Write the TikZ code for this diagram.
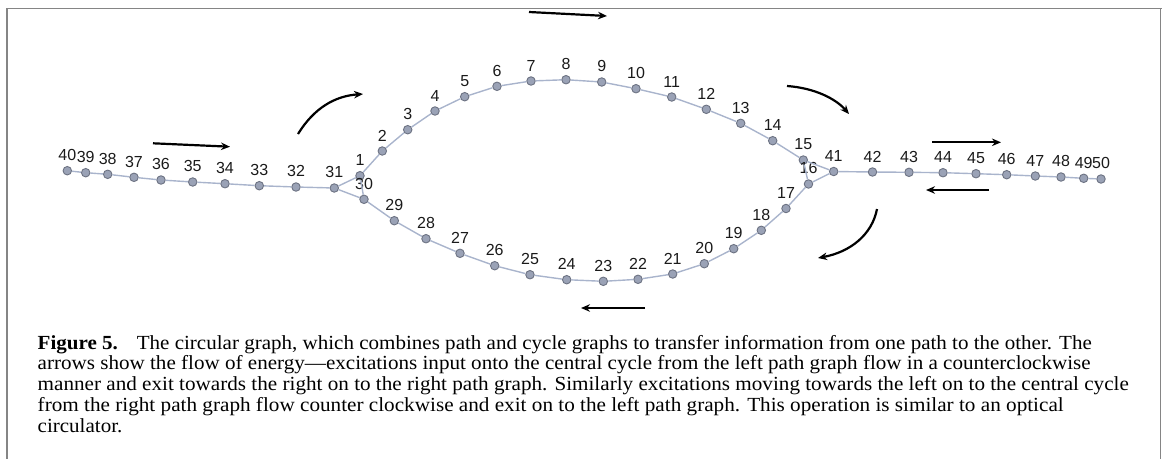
\documentclass[tikz,border=0pt]{standalone}
\usepackage{fontspec}
\usepackage{graphicx}
\setmainfont{Liberation Serif}
\newfontfamily\labfont{Liberation Sans}
\usetikzlibrary{arrows.meta}
\definecolor{vertfill}{HTML}{9AA2B6}
\definecolor{vertedge}{HTML}{6C7282}
\definecolor{linkcol}{HTML}{A9B4CC}
\definecolor{labcol}{HTML}{1A1A1A}
\definecolor{framecol}{HTML}{858585}
\newcommand\capsize{\fontsize{20}{22}\selectfont}
% one caption line, set to a given width at its natural height
\newcommand\capline[2]{\resizebox{#1pt}{\height}{\capsize #2}}
\newcommand\capfirst{\textbf{Figure 5.}\hspace{0.9em}The circular graph, which combines path and cycle graphs to transfer information from one path to the other. The}
% horizontal widening of the caption, taken from its first line
\newlength\capwd
\AtBeginDocument{%
  \settowidth\capwd{\rmfamily\capsize\capfirst}%
  \pgfmathsetmacro\capratio{1054/\capwd}%
  \xdef\capratio{\capratio}}

\begin{document}
\begin{tikzpicture}[x=1pt,y=-1pt,
  vert/.style={circle,draw=vertedge,fill=vertfill,line width=0.9pt,inner sep=0pt,minimum size=8.5pt},
  link/.style={draw=linkcol,line width=1.4pt},
  flow/.style={line width=2.2pt,-{Stealth[length=9pt,width=7.5pt]}},
  frameline/.style={draw=framecol},
  vlab/.style={font=\labfont\fontsize{16}{16}\selectfont,inner sep=0pt,text=labcol},
  captext/.style={anchor=base west,inner sep=0pt}
]
\useasboundingbox (0,0) rectangle (1165,459);

% frame
\draw[frameline,line width=1pt] (6,8.5) -- (1161.5,8.5);
\draw[frameline,line width=1.8pt] (7,8) -- (7,459);
\draw[frameline,line width=1.8pt] (1160.5,8) -- (1160.5,459);

% vertices
\foreach \n/\x/\y in {
  40/67.3/170.7, 39/85.7/172.7, 38/107.7/174.3, 37/134/177.3, 36/161/180,
  35/192.7/182, 34/225/183.7, 33/259.3/185.7, 32/296/187, 31/334.3/188,
  1/360/175.7, 2/382.3/151, 3/407.7/129.7, 4/435/111, 5/464.7/96.7,
  6/497/86.3, 7/531/81, 8/566/79.7, 9/601.7/82, 10/636/88.7,
  11/671.7/97, 12/706.3/109.3, 13/740.7/123.3, 14/772.7/140.7, 15/803.3/160,
  16/808.5/184, 17/786/208.5, 18/761.3/230.3, 19/733.7/248.7, 20/704.3/263.7,
  21/672.7/274, 22/638/279.3, 23/603.3/281.3, 24/566.7/279.7, 25/530/274.7,
  26/494.7/265.7, 27/460/253.3, 28/426/238.7, 29/394.3/220.7, 30/364/199.3,
  41/833.7/171.5, 42/872.5/172, 43/909/172.3, 44/943/172.7, 45/976/173.7,
  46/1006.7/174.7, 47/1035.3/176, 48/1061/177, 49/1083.7/178.3, 50/1101/179}
  \node[vert,label={[vlab,label distance=5pt]above:\n}] (v\n) at (\x,\y) {};

% left path
\foreach \a/\b in {40/39,39/38,38/37,37/36,36/35,35/34,34/33,33/32,32/31}
  \draw[link] (v\a) -- (v\b);
% junctions
\draw[link] (v31) -- (v1);
\draw[link] (v31) -- (v30);
\draw[link] (v1) -- (v30);
\draw[link] (v15) -- (v41);
\draw[link] (v16) -- (v41);
% central cycle
\foreach \a in {1,...,29}{
  \pgfmathtruncatemacro\b{\a+1}
  \draw[link] (v\a) -- (v\b);
}
% right path
\foreach \a/\b in {41/42,42/43,43/44,44/45,45/46,46/47,47/48,48/49,49/50}
  \draw[link] (v\a) -- (v\b);

% flow arrows
\coordinate (inL0) at (153,143.3);   \coordinate (inL1) at (230,146.7);
\coordinate (topA0) at (529,12);     \coordinate (topA1) at (607,16);
\coordinate (outR0) at (932,142.3);  \coordinate (outR1) at (1001,142.3);
\coordinate (inR0) at (989,190);     \coordinate (inR1) at (926,190);
\coordinate (botA0) at (645,308);    \coordinate (botA1) at (581,308);
\coordinate (turnA0) at (298,134);   \coordinate (turnA1) at (363,94);
\coordinate (turnB0) at (787,86);    \coordinate (turnB1) at (849,114);
\coordinate (turnC0) at (877,209);   \coordinate (turnC1) at (818,258);

\draw[flow] (inL0) -- (inL1);
\draw[flow] (topA0) -- (topA1);
\draw[flow] (outR0) -- (outR1);
\draw[flow] (inR0) -- (inR1);
\draw[flow] (botA0) -- (botA1);
\draw[flow] (turnA0) .. controls (314,108) and (335,96) .. (turnA1);
\draw[flow] (turnB0) .. controls (815,88) and (836,99) .. (turnB1);
\draw[flow] (turnC0) .. controls (872,235) and (850,252) .. (turnC1);

% caption
\node[captext] (cap1) at (37.5,349) {\capline{1054}{\capfirst}};
\node[captext] (cap2) at (37.5,369.8) {\capline{1053}{arrows show the flow of energy—excitations input onto the central cycle from the left path graph flow in a counterclockwise}};
\node[captext] (cap3) at (37.5,390.6) {\capline{1091}{manner and exit towards the right on to the right path graph. Similarly excitations moving towards the left on to the central cycle}};
\node[captext] (cap4) at (37.5,411.4) {\capline{1026}{from the right path graph flow counter clockwise and exit on to the left path graph. This operation is similar to an optical}};
\node[captext] (cap5) at (37.5,432.2) {\scalebox{\capratio}[1]{\capsize circulator.}};
\end{tikzpicture}
\end{document}
